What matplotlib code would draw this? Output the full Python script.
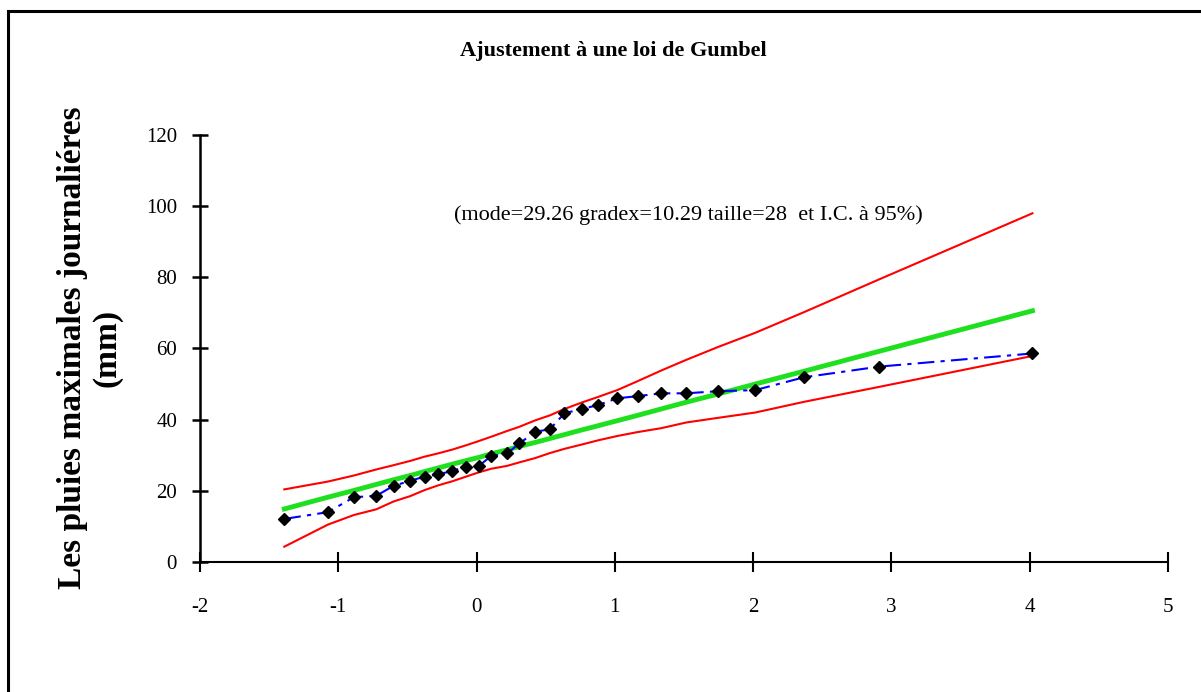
import numpy as np
import matplotlib.pyplot as plt
from matplotlib.patches import Rectangle

# Gumbel reduced variate (x) for the 28 observations
u_values = [-1.39, -1.075, -0.887, -0.725, -0.60, -0.48, -0.376, -0.28, -0.174, -0.075,
            0.017, 0.106, 0.22, 0.31, 0.424, 0.53, 0.636, 0.76, 0.88, 1.017,
            1.164, 1.335, 1.516, 1.745, 2.015, 2.367, 2.91, 4.02]

# observed daily max rainfall (mm)
pluies_obs = [12.1, 14.0, 18.2, 18.6, 21.4, 22.8, 24.0, 24.6, 25.6, 26.8,
              27.0, 29.8, 30.5, 33.3, 36.6, 37.3, 41.8, 43.0, 44.1, 46.0,
              46.6, 47.4, 47.4, 48.0, 48.3, 51.9, 54.9, 58.6]

# fitted Gumbel line
pluies_gumbel = [14.9, 18.2, 20.1, 21.8, 23.1, 24.3, 25.4, 26.4, 27.5, 28.5,
                 29.4, 30.4, 31.5, 32.5, 33.6, 34.7, 35.8, 37.1, 38.3, 39.7,
                 41.2, 43.0, 44.9, 47.2, 50.0, 53.6, 59.2, 70.6]

# 95% confidence bounds
ic_haut = [20.4, 22.6, 24.3, 26.0, 27.2, 28.4, 29.6, 30.5, 31.6, 32.8,
           34.0, 35.2, 36.8, 38.0, 39.8, 41.2, 43.0, 44.8, 46.4, 48.3,
           50.8, 53.8, 56.8, 60.4, 64.4, 70.2, 79.4, 98.0]
ic_bas = [4.3, 10.5, 13.2, 14.8, 17.0, 18.5, 20.2, 21.5, 22.7, 24.0,
          25.2, 26.2, 27.0, 28.0, 29.2, 30.6, 31.8, 33.0, 34.2, 35.4,
          36.5, 37.6, 39.2, 40.5, 42.0, 45.0, 49.2, 57.9]

x_ticks = [-2, -1, 0, 1, 2, 3, 4, 5]
y_ticks = [0, 20, 40, 60, 80, 100, 120]


def main():
    plt.rcParams['font.family'] = ['Liberation Serif', 'DejaVu Serif']

    fig = plt.figure(figsize=(12.01, 6.92), dpi=100)
    ax = fig.add_axes([0.1665, 0.1879, 0.806, 0.617])

    ax.plot(u_values, ic_haut, color='#ff0000', lw=1.5)
    ax.plot(u_values, ic_bas, color='#ff0000', lw=1.5)
    ax.plot(u_values, pluies_gumbel, color='#1ee01e', lw=3.5)
    ax.plot(u_values, pluies_obs, color='#0000ff', lw=1.5, linestyle=(0, (8, 3, 2, 3)),
            marker='D', markersize=6, markerfacecolor='black', markeredgecolor='black')

    ax.set_xlim(-2, 5)
    ax.set_ylim(0, 120)
    ax.set_xticks(x_ticks)
    ax.set_yticks(y_ticks)
    ax.set_xticklabels([str(t) for t in x_ticks])
    ax.set_yticklabels([str(t) for t in y_ticks])

    for side in ['top', 'right']:
        ax.spines[side].set_visible(False)
    ax.spines['left'].set_linewidth(1.8)
    ax.spines['bottom'].set_linewidth(1.5)

    ax.tick_params(axis='y', direction='inout', length=11, width=1.8, pad=11, labelsize=15)
    ax.tick_params(axis='x', direction='inout', length=14, width=1.5, pad=19, labelsize=15)

    fig.text(0.5105, 0.927, 'Ajustement à une loi de Gumbel', ha='center', va='center',
             fontsize=16, fontweight='bold')
    fig.text(0.573, 0.689, '(mode=29.26 gradex=10.29 taille=28  et I.C. à 95%)',
             ha='center', va='center', fontsize=16)
    fig.text(0.0745, 0.497, 'Les pluies maximales journaliéres\n(mm)', ha='center', va='center',
             rotation=90, fontsize=24, fontweight='bold', linespacing=1.15)

    # outer frame (right and bottom edges fall outside the picture)
    fig.patches.append(Rectangle((8 / 1201, -0.05), 1.1, (692 - 11) / 692 + 0.05,
                                 transform=fig.transFigure, fill=False,
                                 edgecolor='black', lw=2.2, clip_on=False))

    fig.savefig('out.png', dpi=100)


if __name__ == "__main__":
    main()
